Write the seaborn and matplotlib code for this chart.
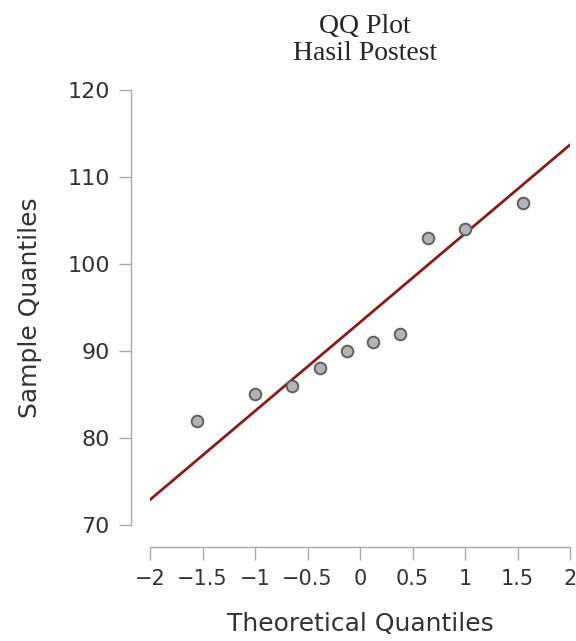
import numpy as np
import pandas as pd
import matplotlib
matplotlib.use("Agg")
import matplotlib.pyplot as plt
import seaborn as sns

# data
theoretical = [-1.55, -1.00, -0.65, -0.38, -0.12, 0.12, 0.38, 0.65, 1.00, 1.55]
sample = [82, 85, 86, 88, 90, 91, 92, 103, 104, 107]
line_x = [-2, 2]
line_y = [72.9, 113.7]

x_ticks = [-2, -1.5, -1, -0.5, 0, 0.5, 1, 1.5, 2]
x_labels = ["\u22122", "\u22121.5", "\u22121", "\u22120.5", "0", "0.5", "1", "1.5", "2"]
y_ticks = [70, 80, 90, 100, 110, 120]

sns.set_style("ticks")
plt.rcParams["font.family"] = ["DejaVu Sans"]

df = pd.DataFrame({"theoretical": theoretical, "sample": sample})

fig = plt.figure(figsize=(5.76, 6.41), dpi=100)
ax = fig.add_axes([150 / 576, 116 / 641, 420 / 576, 435 / 641])

sns.lineplot(x=line_x, y=line_y, color="#8b1a1a", linewidth=2, ax=ax)
sns.scatterplot(
    data=df,
    x="theoretical",
    y="sample",
    s=70,
    color="#b3b3b3",
    edgecolor="#606060",
    linewidth=1.4,
    zorder=3,
    ax=ax,
)

ax.set_xlim(-2, 2)
ax.set_ylim(70, 120)
ax.set_xticks(x_ticks)
ax.set_xticklabels(x_labels)
ax.set_yticks(y_ticks)

ax.set_xlabel("Theoretical Quantiles", fontsize=18, color="#333333", va="center")
ax.set_ylabel("Sample Quantiles", fontsize=18, color="#333333", va="center")
ax.xaxis.set_label_coords(0.5, (525 - 624) / 435)
ax.yaxis.set_label_coords((30 - 150) / 420, 0.5)

ax.tick_params(axis="both", colors="#333333", length=9, width=1, color="#aaaaaa")
ax.tick_params(axis="x", labelsize=15, pad=7)
ax.tick_params(axis="y", labelsize=16, pad=6)

sns.despine(ax=ax, offset={"left": 14, "bottom": 16}, trim=True)
for side in ["left", "bottom"]:
    ax.spines[side].set_color("#aaaaaa")
    ax.spines[side].set_linewidth(1)

fig.text(365 / 576, 1 - 40 / 641, "QQ Plot\nHasil Postest", ha="center", va="center",
         fontsize=20, family=["Liberation Serif", "DejaVu Serif"], linespacing=1.15)

fig.savefig("out.png", dpi=100)
